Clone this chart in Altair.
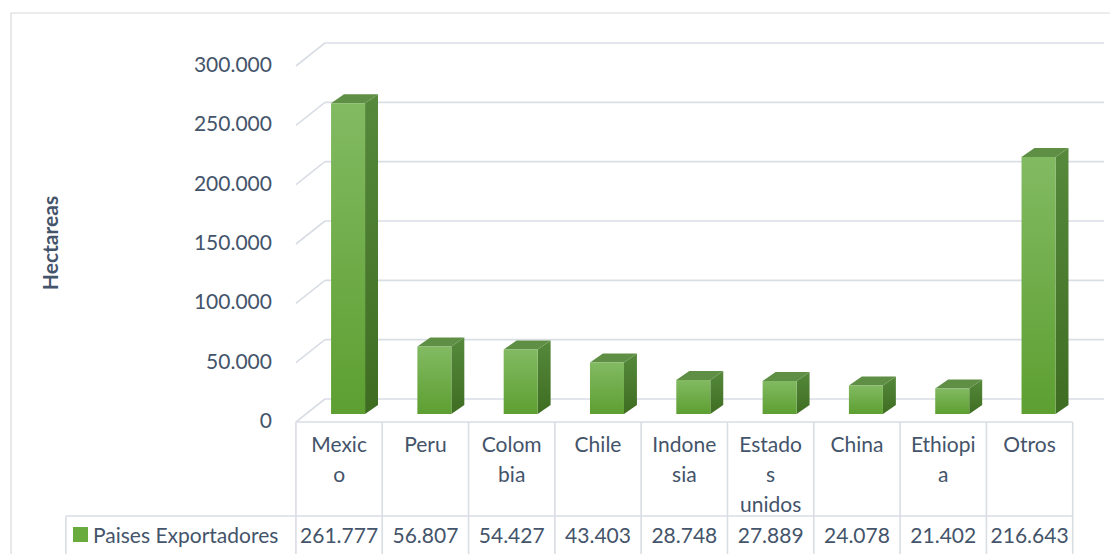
import altair as alt
import pandas as pd

# ---------------- data ----------------
categories = ["Mexico", "Peru", "Colombia", "Chile", "Indonesia",
              "Estados unidos", "China", "Ethiopia", "Otros"]
category_lines = ["Mexic\no", "Peru", "Colom\nbia", "Chile", "Indone\nsia",
                  "Estado\ns\nunidos", "China", "Ethiopi\na", "Otros"]
values = [261777, 56807, 54427, 43403, 28748, 27889, 24078, 21402, 216643]
value_labels = ["261.777", "56.807", "54.427", "43.403", "28.748",
                "27.889", "24.078", "21.402", "216.643"]
tick_values = [0, 50000, 100000, 150000, 200000, 250000, 300000]
tick_labels = ["0", "50.000", "100.000", "150.000", "200.000", "250.000", "300.000"]
series_name = "Paises Exportadores"
y_title = "Hectareas"

# ---------------- geometry / style ----------------
W, H = 1102, 546
PX_PER_UNIT = 86.3            # one category step in pixels
VAL_PER_PX = 300000 / 356.0   # value units per pixel
X_DOMAIN = [-3.836, 8.932]
Y_DOMAIN = [(422 - (H + 8)) * VAL_PER_PX, 348876]

BAR_SHIFT = 0.104
BAR_HALF = 0.197
DEPTH_X = 0.15
DEPTH_Y = 9 * VAL_PER_PX
BASE = 8 * VAL_PER_PX
WALL_DX = 0.336
WALL_DY = 23 * VAL_PER_PX
LEFT = -0.5
RIGHT_END = 8.863
TABLE_RIGHT = 8.5
LEGEND_LEFT = -3.165
ROW_LINE = -79214
LABEL_X = -0.778

TEXT = "#44546a"
GRID = "#d9dde4"
BORDER = "#d9d9d9"
FONT = "Lato"

xs = alt.Scale(domain=X_DOMAIN, nice=False, zero=False)
ys = alt.Scale(domain=Y_DOMAIN, nice=False, zero=False)


def X(f):
    return alt.X(f, scale=xs, axis=None, title=None)


def Y(f):
    return alt.Y(f, scale=ys, axis=None, title=None, stack=False)


# bars
bars = pd.DataFrame({"i": list(range(len(categories))), "cat": categories, "v": values})
bars["c"] = bars["i"] + BAR_SHIFT
bars["x0"] = bars["c"] - BAR_HALF
bars["x1"] = bars["c"] + BAR_HALF
bars["y0"] = BASE
bars["y1"] = BASE + bars["v"]

side_rows, top_rows = [], []
for _, r in bars.iterrows():
    side_rows.append({"cat": r["cat"], "x": r["x1"], "lo": r["y0"], "hi": r["y1"]})
    side_rows.append({"cat": r["cat"], "x": r["x1"] + DEPTH_X,
                      "lo": r["y0"] + DEPTH_Y, "hi": r["y1"] + DEPTH_Y})
    t = r["y1"]
    top_rows.append({"cat": r["cat"], "x": r["x0"], "lo": t, "hi": t})
    top_rows.append({"cat": r["cat"], "x": r["x0"] + DEPTH_X, "lo": t, "hi": t + DEPTH_Y})
    top_rows.append({"cat": r["cat"], "x": r["x1"], "lo": t, "hi": t + DEPTH_Y})
    top_rows.append({"cat": r["cat"], "x": r["x1"] + DEPTH_X, "lo": t + DEPTH_Y, "hi": t + DEPTH_Y})
side = pd.DataFrame(side_rows)
top = pd.DataFrame(top_rows)

grid = pd.DataFrame({"v": tick_values, "label": tick_labels})
grid["gx0"] = LEFT
grid["gx1"] = LEFT + WALL_DX
grid["gx2"] = RIGHT_END
grid["gy1"] = grid["v"] + WALL_DY
grid["lx"] = LABEL_X

table = pd.DataFrame({"i": list(range(len(categories))), "lines": category_lines,
                      "val": value_labels})
vlines = pd.DataFrame({"x": [k - 0.5 for k in range(len(categories) + 1)]})
vlines["y0"] = 0
vlines["y1"] = Y_DOMAIN[0]

one = pd.DataFrame({"a": [0]})

front_grad = alt.Gradient(gradient="linear", x1=0, x2=0, y1=0, y2=1,
                          stops=[alt.GradientStop(color="#82ba62", offset=0),
                                 alt.GradientStop(color="#5d9f31", offset=1)])
side_grad = alt.Gradient(gradient="linear", x1=0, x2=0, y1=0, y2=1,
                         stops=[alt.GradientStop(color="#56893b", offset=0),
                                alt.GradientStop(color="#3e6d22", offset=1)])

border = alt.Chart(one).mark_rect(filled=False, stroke=BORDER, strokeWidth=1.2).encode(
    x=alt.value(3), x2=alt.value(1300), y=alt.value(5), y2=alt.value(800))

grid_diag = alt.Chart(grid).mark_rule(color=GRID, strokeWidth=1.6).encode(
    x=X("gx0:Q"), x2="gx1:Q", y=Y("v:Q"), y2="gy1:Q")
grid_back = alt.Chart(grid).mark_rule(color=GRID, strokeWidth=1.6).encode(
    x=X("gx1:Q"), x2="gx2:Q", y=Y("gy1:Q"))

ylabels = alt.Chart(grid).mark_text(align="right", baseline="middle", font=FONT,
                                    fontSize=21, color=TEXT).encode(
    x=X("lx:Q"), y=Y("v:Q"), text="label:N")

ytitle = alt.Chart(one).mark_text(angle=270, font=FONT, fontSize=21, fontWeight="bold",
                                  color=TEXT, baseline="middle", align="center").encode(
    x=alt.value(44), y=alt.value(235), text=alt.value(y_title))

side_area = alt.Chart(side).mark_area(orient="vertical", color=side_grad).encode(
    x=X("x:Q"), y=Y("hi:Q"), y2="lo:Q", detail="cat:N")
top_area = alt.Chart(top).mark_area(orient="vertical", color="#5f8f45").encode(
    x=X("x:Q"), y=Y("hi:Q"), y2="lo:Q", detail="cat:N")
front = alt.Chart(bars).mark_rect(color=front_grad).encode(
    x=X("x0:Q"), x2="x1:Q", y=Y("y0:Q"), y2="y1:Q")

# data table
table_top = alt.Chart(one).mark_rule(color=GRID, strokeWidth=1.6).encode(
    x=X("l:Q"), x2="r:Q", y=Y("z:Q")
).transform_calculate(l=str(LEFT), r=str(TABLE_RIGHT), z="0")
table_v = alt.Chart(vlines).mark_rule(color=GRID, strokeWidth=1.6).encode(
    x=X("x:Q"), y=Y("y0:Q"), y2="y1:Q")
row_line = alt.Chart(one).mark_rule(color=GRID, strokeWidth=1.6).encode(
    x=X("l:Q"), x2="r:Q", y=Y("z:Q")
).transform_calculate(l=str(LEGEND_LEFT), r=str(TABLE_RIGHT), z=str(ROW_LINE))
legend_v = alt.Chart(one).mark_rule(color=GRID, strokeWidth=1.6).encode(
    x=X("l:Q"), y=Y("z:Q"), y2="b:Q"
).transform_calculate(l=str(LEGEND_LEFT), z=str(ROW_LINE), b=str(Y_DOMAIN[0]))

cat_text = alt.Chart(table).mark_text(align="center", baseline="alphabetic", font=FONT,
                                      fontSize=21, color=TEXT, lineBreak="\n",
                                      lineHeight=30).encode(
    x=X("i:Q"), y=alt.value(444), text="lines:N")
val_text = alt.Chart(table).mark_text(align="center", baseline="alphabetic", font=FONT,
                                      fontSize=21, color=TEXT).encode(
    x=X("i:Q"), y=alt.value(535), text="val:N")

legend_sq = alt.Chart(one).mark_rect(color="#6aab3e").encode(
    x=alt.value(65), x2=alt.value(80), y=alt.value(519), y2=alt.value(534))
legend_txt = alt.Chart(one).mark_text(align="left", baseline="alphabetic", font=FONT,
                                      fontSize=21, color=TEXT).encode(
    x=alt.value(85), y=alt.value(535), text=alt.value(series_name))

chart = alt.layer(
    border, grid_diag, grid_back, table_top, table_v, row_line, legend_v,
    side_area, top_area, front, ylabels, ytitle, cat_text, val_text,
    legend_sq, legend_txt
).properties(
    width=W, height=H, padding=0,
    autosize=alt.AutoSizeParams(type="none"),
    background="white"
).configure_view(stroke=None)

chart.save("out.html", embed_options={"renderer": "svg", "actions": False})
